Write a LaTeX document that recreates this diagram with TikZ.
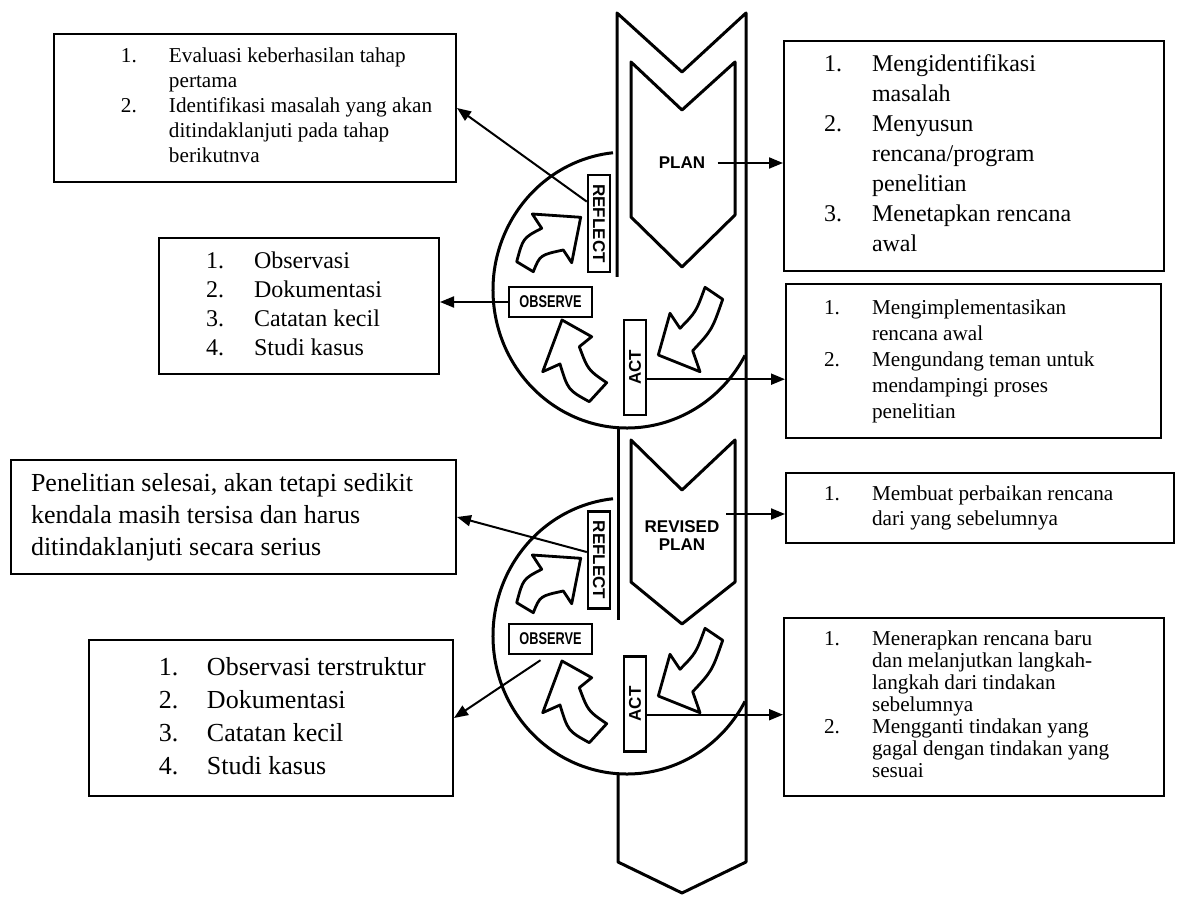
\documentclass[tikz,border=0pt]{standalone}
\usepackage{fontspec}
\setmainfont{Liberation Serif}
\setsansfont{Liberation Sans}
\usepackage{graphicx}
\usetikzlibrary{arrows.meta,calc}

% numbered list set like a word-processor list: width, indent, rows
\newcommand{\numlist}[3]{\makebox[#1][l]{\hspace*{#2}\begin{tabular}{@{}p{24pt}@{}l@{}}#3\end{tabular}}}

\begin{document}
\begin{tikzpicture}[
  x=0.5pt, y=-0.5pt,
  outline/.style={line width=1.5pt, line join=round},
  blockarr/.style={line width=1.4pt, line join=round, fill=white},
  stage/.style={draw, line width=1.2pt, inner sep=0pt, font=\sffamily\bfseries\fontsize{8.5pt}{8.5pt}\selectfont},
  txtbox/.style={draw, line width=1pt, anchor=north west, inner xsep=0pt, inner ysep=0pt},
  smalltxt/.style={font=\fontsize{10.6pt}{12.5pt}\selectfont},
  conn/.style={line width=1pt, -{Triangle[length=7pt,width=5.5pt]}},
  turnarrows/.pic={
    % reflect
    \draw[blockarr] (516.7,261.7) .. controls (523,238) .. (541.7,228.3) -- (532.3,214)
      -- (580.7,217.3) -- (571.7,262.7) -- (563.3,250) .. controls (540,255) .. (533.3,271.7) -- cycle;
    % observe
    \draw[blockarr] (562,320) -- (542.7,371.7) -- (560,364) .. controls (568,390) .. (589.3,401.7)
      -- (606.7,382.7) .. controls (588,370) .. (579.3,346.7) -- (591.7,336.7) -- cycle;
    % act
    \draw[blockarr] (705,287.3) .. controls (696,312) .. (680,328.3) -- (670,313.3) -- (658.3,355)
      -- (700,371.7) -- (692.7,350.7) .. controls (712,330) .. (722.7,299.3) -- cycle;
  }
]
\useasboundingbox (0,0) rectangle (1178,898);

% spiral column
\draw[outline] (617,277) -- (617,13) -- (682,72) -- (746,13) -- (746,862) -- (682,893) -- (618,862) -- (618,774);
\draw[outline] (618,427) -- (618,620);
\draw[outline] (631,62) -- (682,110) -- (735,62) -- (735,215) -- (682,267) -- (631,217) -- cycle;
\draw[outline] (631,440) -- (682,490) -- (735,440) -- (735,582) -- (682,624) -- (631,582) -- cycle;
\draw[outline] (627,290) ++(-96:134 and 138) arc[start angle=-96, end angle=-331.7, x radius=134, y radius=138];
\draw[outline] (627,636) ++(-96:134 and 138) arc[start angle=-96, end angle=-331.7, x radius=134, y radius=138];

\pic at (0,0) {turnarrows};
\pic at (0,341) {turnarrows};

\node[font=\sffamily\bfseries\fontsize{8.5pt}{8.5pt}\selectfont, inner xsep=6pt] (plan) at (682,163) {PLAN};
\node[font=\sffamily\bfseries\fontsize{8.5pt}{9pt}\selectfont, align=center] (revplan) at (682,536) {REVISED\\PLAN};

\node[stage, rotate=-90, minimum width=48.5pt, minimum height=11pt] (refl1) at (599,223.5) {REFLECT};
\node[stage, minimum width=41.5pt, minimum height=15pt] (obs1) at (550.5,302) {\scalebox{.75}[1]{OBSERVE}};
\node[stage, rotate=90, minimum width=47.5pt, minimum height=11pt] (act1) at (635,367.5) {ACT};
\node[stage, rotate=-90, minimum width=48.5pt, minimum height=11pt] (refl2) at (599,560) {REFLECT};
\node[stage, minimum width=41.5pt, minimum height=15pt] (obs2) at (550.5,639) {\scalebox{.75}[1]{OBSERVE}};
\node[stage, rotate=90, minimum width=47.5pt, minimum height=11pt] (act2) at (635,704) {ACT};

% text boxes
\node[txtbox, smalltxt, minimum height=74pt] (boxA) at (53,33)
  {\numlist{201pt}{33.5pt}{1. & Evaluasi keberhasilan tahap\\ & pertama\\ 2. & Identifikasi masalah yang akan\\ & ditindaklanjuti pada tahap\\ & berikutnva}};
\node[txtbox, font=\fontsize{12pt}{15pt}\selectfont, minimum height=115pt] (boxB) at (783,40)
  {\numlist{190pt}{20pt}{1. & Mengidentifikasi\\ & masalah\\ 2. & Menyusun\\ & rencana/program\\ & penelitian\\ 3. & Menetapkan rencana\\ & awal}};
\node[txtbox, font=\fontsize{12pt}{14.5pt}\selectfont, minimum height=68pt] (boxC) at (158,237)
  {\numlist{140pt}{23.5pt}{1. & Observasi\\ 2. & Dokumentasi\\ 3. & Catatan kecil\\ 4. & Studi kasus}};
\node[txtbox, font=\fontsize{10.6pt}{13pt}\selectfont, minimum height=77pt] (boxD) at (785,283)
  {\numlist{187.5pt}{19pt}{1. & Mengimplementasikan\\ & rencana awal\\ 2. & Mengundang teman untuk\\ & mendampingi proses\\ & penelitian}};
\node[txtbox, font=\fontsize{13pt}{16pt}\selectfont, minimum height=57pt] (boxE) at (10,459)
  {\makebox[222.5pt][l]{\hspace*{10pt}\begin{tabular}{@{}l@{}}Penelitian selesai, akan tetapi sedikit\\ kendala masih tersisa dan harus\\ ditindaklanjuti secara serius\end{tabular}}};
\node[txtbox, smalltxt, minimum height=35pt] (boxF) at (785,472)
  {\numlist{194pt}{19pt}{1. & Membuat perbaikan rencana\\ & dari yang sebelumnya}};
\node[txtbox, font=\fontsize{13pt}{16.5pt}\selectfont, minimum height=78pt] (boxG) at (88,639)
  {\numlist{182pt}{35pt}{1. & Observasi terstruktur\\ 2. & Dokumentasi\\ 3. & Catatan kecil\\ 4. & Studi kasus}};
\node[txtbox, font=\fontsize{10.6pt}{11pt}\selectfont, minimum height=89pt] (boxH) at (783,617)
  {\numlist{190pt}{20pt}{1. & Menerapkan rencana baru\\ & dan melanjutkan langkah-\\ & langkah dari tindakan\\ & sebelumnya\\ 2. & Mengganti tindakan yang\\ & gagal dengan tindakan yang\\ & sesuai}};

% connectors
\coordinate (refl1out) at ($(refl1.south west)!.28!(refl1.south east)$);
\coordinate (act1out) at ($(act1.south west)!.38!(act1.south east)$);
\coordinate (refl2out) at ($(refl2.south west)!.42!(refl2.south east)$);
\coordinate (act2out) at ($(act2.south west)!.39!(act2.south east)$);
\draw[conn] (plan.east) -- (plan.east -| boxB.west);
\draw[conn] (refl1out) -- (boxA.east);
\draw[conn] (obs1.west) -- (obs1.west -| boxC.east);
\draw[conn] (act1out) -- (act1out -| boxD.west);
\draw[conn] (revplan.north east) -- (revplan.north east -| boxF.west);
\draw[conn] (refl2out) -- (boxE.east);
\draw[conn] ([xshift=-5pt,yshift=-2.5pt]obs2.south) -- (boxG.east);
\draw[conn] (act2out) -- (act2out -| boxH.west);
\end{tikzpicture}
\end{document}
